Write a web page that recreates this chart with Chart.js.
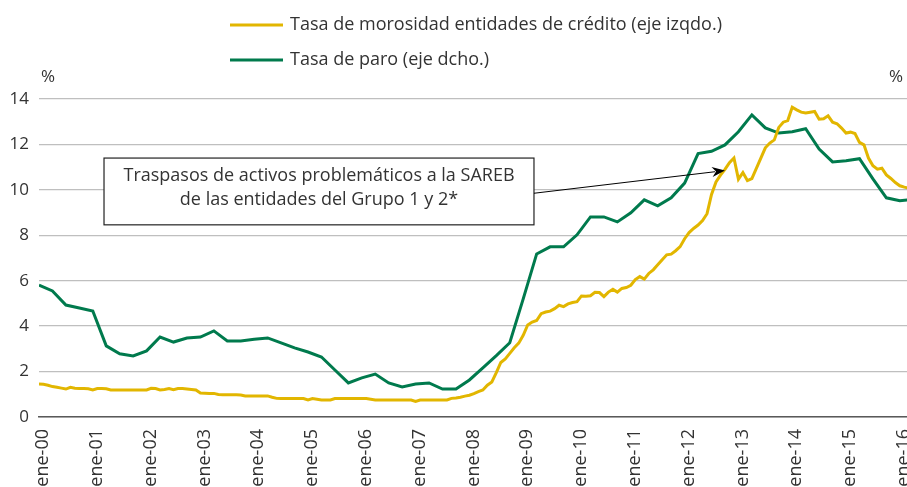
<!DOCTYPE html>
<html>
<head>
<meta charset="utf-8">
<script src="https://cdn.jsdelivr.net/npm/chart.js@4/dist/chart.umd.min.js"></script>
<style>
  html, body { margin: 0; padding: 0; background: #fff; }
  #wrap { width: 907px; height: 487px; position: relative; }
</style>
</head>
<body>
<div id="wrap"><canvas id="chart"></canvas></div>
<script>

// labels of the x axis (one per January)
const yearLabels = ['ene-00', 'ene-01', 'ene-02', 'ene-03', 'ene-04', 'ene-05', 'ene-06', 'ene-07', 'ene-08',
  'ene-09', 'ene-10', 'ene-11', 'ene-12', 'ene-13', 'ene-14', 'ene-15', 'ene-16']

const seriesNames = ['Tasa de morosidad entidades de crédito (eje izqdo.)', 'Tasa de paro (eje dcho.)']

// tasa de morosidad, monthly, from ene-00
const morosidad = [
  1.45, 1.44, 1.40, 1.34, 1.31, 1.27, 1.23, 1.31, 1.27, 1.25, 1.25, 1.24,
  1.19, 1.25, 1.25, 1.24, 1.19, 1.19, 1.19, 1.19, 1.19, 1.19, 1.19, 1.19,
  1.19, 1.26, 1.25, 1.19, 1.21, 1.25, 1.20, 1.25, 1.25, 1.23, 1.21, 1.19,
  1.06, 1.05, 1.04, 1.04, 0.99, 0.98, 0.98, 0.98, 0.98, 0.97, 0.93, 0.93,
  0.93, 0.93, 0.93, 0.93, 0.87, 0.82, 0.81, 0.81, 0.81, 0.81, 0.81, 0.81,
  0.75, 0.81, 0.78, 0.75, 0.75, 0.75, 0.81, 0.81, 0.81, 0.81, 0.81, 0.81,
  0.81, 0.81, 0.78, 0.75, 0.75, 0.75, 0.75, 0.75, 0.75, 0.75, 0.75, 0.75,
  0.69, 0.75, 0.75, 0.75, 0.75, 0.75, 0.75, 0.75, 0.82, 0.84, 0.87, 0.92,
  0.96, 1.03, 1.12, 1.19, 1.40, 1.54, 1.95, 2.40, 2.56, 2.80, 3.05, 3.25,
  3.60, 4.05, 4.18, 4.25, 4.55, 4.62, 4.66, 4.77, 4.92, 4.86, 4.98, 5.04,
  5.08, 5.33, 5.32, 5.34, 5.49, 5.48, 5.30, 5.50, 5.62, 5.50, 5.66, 5.70,
  5.80, 6.05, 6.18, 6.07, 6.32, 6.48, 6.70, 6.92, 7.14, 7.17, 7.32, 7.50,
  7.85, 8.12, 8.30, 8.45, 8.65, 8.95, 9.80, 10.35, 10.65, 10.90, 11.20, 11.40,
  10.47, 10.76, 10.41, 10.50, 10.95, 11.40, 11.85, 12.06, 12.20, 12.75, 12.98, 13.05,
  13.64, 13.52, 13.42, 13.38, 13.42, 13.45, 13.11, 13.13, 13.26, 12.98, 12.91, 12.72,
  12.50, 12.54, 12.48, 12.09, 11.98, 11.40, 11.06, 10.91, 10.95, 10.66, 10.50, 10.32,
  10.18, 10.12, 10.07
]

// tasa de paro, quarterly, from I-00 (read on the left scale)
const paro = [
  5.81, 5.55, 4.93, 4.80, 4.67, 3.13, 2.78, 2.69, 2.91, 3.52, 3.30, 3.48,
  3.52, 3.79, 3.35, 3.35, 3.42, 3.48, 3.26, 3.04, 2.86, 2.64, 2.07, 1.50,
  1.72, 1.89, 1.50, 1.32, 1.45, 1.50, 1.23, 1.23, 1.63, 2.16, 2.70, 3.27,
  5.20, 7.18, 7.49, 7.49, 8.02, 8.81, 8.81, 8.59, 8.99, 9.56, 9.30, 9.65,
  10.30, 11.60, 11.70, 11.98, 12.56, 13.30, 12.73, 12.50, 12.56, 12.69, 11.80, 11.23,
  11.28, 11.37, 10.48, 9.65, 9.52, 9.58
]

const yellow = '#e2b600'
const green = '#007a4d'
const textColor = '#333333'
const font = '"Open Sans", "Noto Sans", sans-serif'

// the drawn legend, the two % signs and the SAREB note
const extras = {
  id: 'extras',
  afterDraw(chart) {
    const c = chart.ctx
    const x = chart.scales.x
    const y = chart.scales.y
    const area = chart.chartArea

    c.save()
    c.font = '18px ' + font
    c.fillStyle = textColor
    c.textBaseline = 'middle'
    c.textAlign = 'left'
    const colors = [yellow, green]
    const rows = [25, 60]
    seriesNames.forEach((name, i) => {
      c.strokeStyle = colors[i]
      c.lineWidth = 3
      c.beginPath()
      c.moveTo(230, rows[i])
      c.lineTo(283, rows[i])
      c.stroke()
      c.fillText(name, 290, rows[i])
    })

    c.font = '17px ' + font
    c.fillText('%', area.left + 2, 77)
    c.textAlign = 'right'
    c.fillText('%', area.right - 4, 77)

    // note box
    const bx1 = x.getPixelForValue(14.5)
    const bx2 = x.getPixelForValue(110.4)
    const by1 = y.getPixelForValue(11.4)
    const by2 = y.getPixelForValue(8.46)
    c.fillStyle = '#fff'
    c.fillRect(bx1, by1, bx2 - bx1, by2 - by1)
    c.strokeStyle = '#222'
    c.lineWidth = 1.2
    c.strokeRect(bx1, by1, bx2 - bx1, by2 - by1)
    c.font = '18px ' + font
    c.fillStyle = textColor
    c.textAlign = 'center'
    c.fillText('Traspasos de activos problemáticos a la SAREB', (bx1 + bx2) / 2, by1 + 18)
    c.fillText('de las entidades del Grupo 1 y 2*', (bx1 + bx2) / 2, by1 + 42)

    // arrow to the morosidad line
    const ax = bx2
    const ay = y.getPixelForValue(9.85)
    const tx = x.getPixelForValue(153)
    const ty = y.getPixelForValue(10.85)
    const ang = Math.atan2(ty - ay, tx - ax)
    c.strokeStyle = '#000'
    c.lineWidth = 1
    c.beginPath()
    c.moveTo(ax, ay)
    c.lineTo(tx - 10 * Math.cos(ang), ty - 10 * Math.sin(ang))
    c.stroke()
    c.fillStyle = '#000'
    c.beginPath()
    c.moveTo(tx, ty)
    c.lineTo(tx - 13 * Math.cos(ang) + 5 * Math.sin(ang), ty - 13 * Math.sin(ang) - 5 * Math.cos(ang))
    c.lineTo(tx - 9 * Math.cos(ang), ty - 9 * Math.sin(ang))
    c.lineTo(tx - 13 * Math.cos(ang) - 5 * Math.sin(ang), ty - 13 * Math.sin(ang) + 5 * Math.cos(ang))
    c.closePath()
    c.fill()
    c.restore()
  }
}

const ctx = document.getElementById('chart')

new Chart(ctx, {
  type: 'line',
  data: {
    datasets: [{
      label: seriesNames[0],
      data: morosidad.map((v, i) => ({ x: i, y: v })),
      borderColor: yellow,
      borderWidth: 3,
      pointRadius: 0,
      tension: 0,
      yAxisID: 'y'
    }, {
      label: seriesNames[1],
      data: paro.map((v, k) => ({ x: 3 * k, y: v })),
      borderColor: green,
      borderWidth: 3,
      pointRadius: 0,
      tension: 0,
      yAxisID: 'y1'
    }]
  },
  options: {
    responsive: true,
    maintainAspectRatio: false,
    animation: false,
    layout: { padding: { top: 99, right: 0, left: 0, bottom: 0 } },
    plugins: {
      legend: { display: false },
      tooltip: { enabled: false }
    },
    scales: {
      x: {
        type: 'linear',
        min: 0,
        max: 193.6,
        afterBuildTicks: (scale) => {
          scale.ticks = yearLabels.map((l, i) => ({ value: i * 12 }))
        },
        afterFit: (scale) => {
          scale.height = 70
          scale.paddingLeft = 0
          scale.paddingRight = 0
        },
        ticks: {
          autoSkip: false,
          maxRotation: 90,
          minRotation: 90,
          padding: 12,
          labelOffset: 4,
          color: textColor,
          font: { family: font, size: 18 },
          callback: (v) => yearLabels[Math.round(v / 12)]
        },
        grid: { display: false, drawTicks: false },
        border: { display: true, color: '#595959', width: 1.5 }
      },
      y: {
        position: 'left',
        min: 0,
        max: 14,
        afterFit: (scale) => {
          scale.width = 39
          scale.paddingTop = 0
          scale.paddingBottom = 0
        },
        ticks: {
          stepSize: 2,
          padding: 10,
          color: textColor,
          font: { family: font, size: 17 }
        },
        grid: { color: '#bfbfbf', lineWidth: 1.3, drawTicks: false },
        border: { display: false }
      },
      y1: {
        position: 'right',
        min: 0,
        max: 14,
        display: false
      }
    }
  },
  plugins: [extras]
})
</script>
</body>
</html>
